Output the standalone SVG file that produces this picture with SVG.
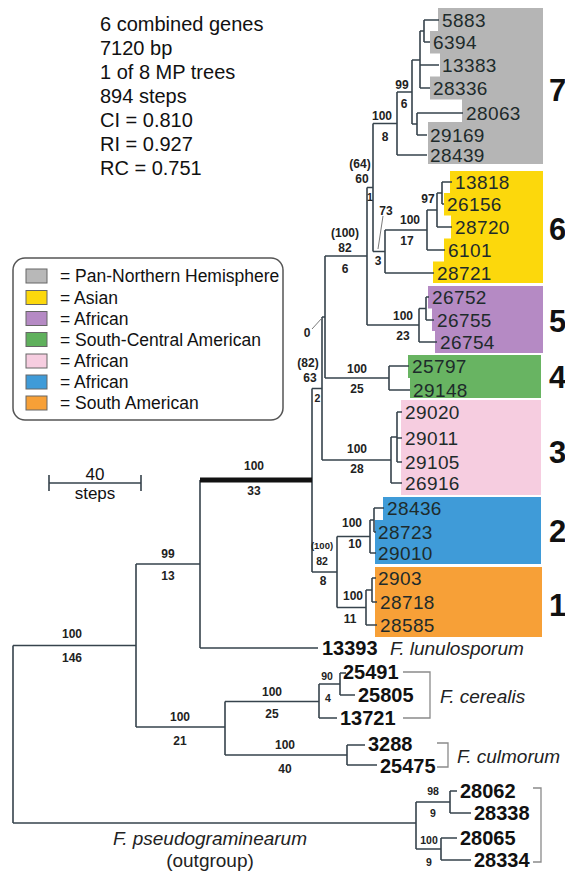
<svg xmlns="http://www.w3.org/2000/svg" width="565" height="873" viewBox="0 0 565 873">
<style>
text{font-family:"Liberation Sans",Arial,Helvetica,sans-serif}
.info{font-size:20px;fill:#111}
.lg{font-size:17.5px;fill:#111}
.bs{font-size:12px;font-weight:bold;fill:#222;text-anchor:middle}
.bsm{font-size:10.5px;font-weight:bold;fill:#222;text-anchor:middle}
.tx{font-size:19px;fill:#1e2b2b;letter-spacing:0.4px}
.tb{font-size:20px;font-weight:bold;fill:#111}
.sp{font-size:19px;font-style:italic;fill:#222}
.cn{font-size:31px;font-weight:bold;fill:#111}
.br{fill:none;stroke:#36434c;stroke-width:1.6}
.bk{fill:none;stroke:#8a8a8a;stroke-width:1.3}
.ptr{stroke:#7a7a7a;stroke-width:1}
.sw{stroke:#666;stroke-width:1}
</style>
<rect x="0" y="0" width="565" height="873" fill="#ffffff"/>

<g id="info">
<text class="info" x="100" y="30.5">6 combined genes</text>
<text class="info" x="100" y="54.5">7120 bp</text>
<text class="info" x="100" y="78.5">1 of 8 MP trees</text>
<text class="info" x="100" y="102.5">894 steps</text>
<text class="info" x="100" y="126.5">CI = 0.810</text>
<text class="info" x="100" y="150.5">RI = 0.927</text>
<text class="info" x="100" y="174.5">RC = 0.751</text>
</g>

<g id="legend">
<rect x="13" y="258" width="270" height="162" rx="12" fill="#fff" stroke="#555" stroke-width="1.5"/>
<rect class="sw" x="26" y="269" width="21" height="14" fill="#b8b8b8"/>
<rect class="sw" x="26" y="290.5" width="21" height="14" fill="#fcd80c"/>
<rect class="sw" x="26" y="311.5" width="21" height="14" fill="#b58ac4"/>
<rect class="sw" x="26" y="332.5" width="21" height="14" fill="#5fb05c"/>
<rect class="sw" x="26" y="354" width="21" height="14" fill="#f6cde0"/>
<rect class="sw" x="26" y="375" width="21" height="14" fill="#3f9bd8"/>
<rect class="sw" x="26" y="396" width="21" height="14" fill="#f7a037"/>
<text class="lg" x="60" y="282">= Pan-Northern Hemisphere</text>
<text class="lg" x="60" y="303.5">= Asian</text>
<text class="lg" x="60" y="324.5">= African</text>
<text class="lg" x="60" y="345.5">= South-Central American</text>
<text class="lg" x="60" y="367">= African</text>
<text class="lg" x="60" y="388">= African</text>
<text class="lg" x="60" y="409">= South American</text>
</g>

<g id="scalebar">
<path d="M49,483 H141 M49,475 V491 M141,475 V491" fill="none" stroke="#36434c" stroke-width="1.6"/>
<text x="95" y="480" font-size="17" fill="#111" text-anchor="middle">40</text>
<text x="95" y="499" font-size="17" fill="#111" text-anchor="middle">steps</text>
</g>

<g id="clade-boxes">
<path id="box7" d="M438,8 H543 V164 H428 V122 H462 V99.5 H430 V76.5 H440 V53.5 H430 V31 H438 Z" fill="#b5b5b5"/>
<path id="box6" d="M450,171 H543 V283 H433 V261.5 H444 V238.5 H451 V215.5 H444 V193 H450 Z" fill="#fcd80c"/>
<path id="box5" d="M428,286 H543 V353 H435 V331 H432 V308.5 H428 Z" fill="#b58ac4"/>
<path id="box4" d="M408,355 H541 V398 H410 V378 H408 Z" fill="#68b462"/>
<rect id="box3" x="401" y="400" width="140" height="95" fill="#f6cde0"/>
<path id="box2" d="M383,497 H541 V564 H375 V520 H383 Z" fill="#3f9bd8"/>
<rect id="box1" x="375" y="567" width="167" height="70" fill="#f7a037"/>
</g>

<g id="connectors">
<path class="br" d="
M13,645.5 V823 M13,645.5 H136 M13,823 H416
M136,564 V727 M136,564 H200 M136,727 H225
M200,480 V648 M200,648 H318
M225,701.5 V755 M225,701.5 H319 M225,755 H347
M319,684 V718 M319,684 H340 M319,718 H337 M340,673 V695 M340,673 H346 M340,695 H355
M347,745 V765 M347,745 H365 M347,765 H377
M416,802 V849 M416,802 H450 M416,849 H441 M450,791 V813 M450,791 H457 M450,813 H471 M441,838 V860 M441,838 H457 M441,860 H471
M312,388.5 V572 M312,388.5 H322 M312,572 H337
M322,317 V460 M322,317 H325 M322,460 H391
M325,256 V378 M325,256 H367 M325,378 H389
M367,187.5 V325 M367,187.5 H373 M367,325 H419
M373,123.5 V251.5 M373,123.5 H397 M373,251.5 H385
M385,230 V273 M385,230 H427 M385,273 H434
M427,210 V250 M427,210 H437 M427,250 H445
M437,193 V227 M437,193 H442 M437,227 H452
M442,182 V204 M442,182 H452 M442,204 H444
M397,92 V155 M397,92 H412 M397,155 H427
M412,60 V124 M412,60 H420 M412,124 H417
M420,31 V88 M420,31 H424 M420,65 H439 M420,88 H430
M424,20 V42 M424,20 H439 M424,42 H430
M417,113 V135 M417,113 H463 M417,135 H427
M419,308.5 V342 M419,308.5 H426 M419,342 H437 M426,297 V320 M426,297 H429 M426,320 H434
M389,366 V390 M389,366 H409 M389,390 H410
M391,437 V483 M391,437 H397 M391,483 H402 M397,412 V462 M397,412 H402 M397,438 H402 M397,462 H402
M337,536.5 V607.5 M337,536.5 H370 M337,607.5 H366
M370,520 V553 M370,520 H374 M370,553 H376
M374,508 V532 M374,508 H384 M374,532 H376
M366,590 V625 M366,590 H372 M366,625 H377
M372,578 V602 M372,578 H376 M372,602 H377
"/>
<path d="M200,480 H312" stroke="#111" stroke-width="5" fill="none"/>
<line class="ptr" x1="312" y1="329" x2="322" y2="318"/>
<line class="ptr" x1="383" y1="216" x2="378" y2="249"/>
<path class="bk" d="M403,672 H430 V718 H403"/>
<path class="bk" d="M437,743 H448 V767 H437"/>
<path class="bk" d="M533,788 H541 V862 H533"/>
</g>

<g id="support-labels">
<text class="bs" x="72" y="637.5">100</text>
<text class="bs" x="72" y="661.5">146</text>
<text class="bs" x="168" y="557.5">99</text>
<text class="bs" x="168" y="579.5">13</text>
<text class="bs" x="254" y="469.5">100</text>
<text class="bs" x="254" y="494.5">33</text>
<text class="bs" x="180" y="720.5">100</text>
<text class="bs" x="180" y="744.5">21</text>
<text class="bs" x="272" y="695.5">100</text>
<text class="bs" x="272" y="717.5">25</text>
<text class="bs" x="285" y="748.5">100</text>
<text class="bs" x="285" y="772.5">40</text>
<text class="bsm" x="327" y="679.5">90</text>
<text class="bsm" x="328" y="701.5">4</text>
<text class="bsm" x="433" y="795">98</text>
<text class="bsm" x="433" y="817">9</text>
<text class="bsm" x="429" y="844">100</text>
<text class="bsm" x="429" y="866">9</text>
<text class="bs" x="308" y="366.5">(82)</text>
<text class="bs" x="310" y="381.5">63</text>
<text class="bsm" x="317.5" y="402">2</text>
<text class="bs" x="307" y="336.5">0</text>
<text class="bs" x="345" y="236.5">(100)</text>
<text class="bs" x="345" y="251.5">82</text>
<text class="bs" x="345" y="272.5">6</text>
<text class="bs" x="357" y="372.5">100</text>
<text class="bs" x="357" y="392.5">25</text>
<text class="bs" x="357" y="452.5">100</text>
<text class="bs" x="357" y="472.5">28</text>
<text class="bs" x="360" y="167.5">(64)</text>
<text class="bs" x="362" y="182.5">60</text>
<text class="bsm" x="370" y="201">1</text>
<text class="bs" x="403" y="319.5">100</text>
<text class="bs" x="403" y="339.5">23</text>
<text class="bs" x="382" y="119.5">100</text>
<text class="bs" x="385" y="140.5">8</text>
<text class="bs" x="402" y="88.5">99</text>
<text class="bs" x="404" y="107.5">6</text>
<text class="bs" x="386" y="214.5">73</text>
<text class="bs" x="378" y="264.5">3</text>
<text class="bs" x="410" y="223.5">100</text>
<text class="bs" x="407" y="244.5">17</text>
<text class="bs" x="428" y="202.5">97</text>
<text x="322" y="549" font-size="9.5" font-weight="bold" fill="#222" text-anchor="middle">(100)</text>
<text class="bsm" x="322" y="564.5">82</text>
<text class="bs" x="323" y="584.5">8</text>
<text class="bs" x="352" y="526.5">100</text>
<text class="bs" x="355" y="547.5">10</text>
<text class="bs" x="353" y="599.5">100</text>
<text class="bs" x="350" y="622.5">11</text>
</g>

<g id="clade7">
<text class="tx" x="442" y="27">5883</text>
<text class="tx" x="433" y="49">6394</text>
<text class="tx" x="442" y="72">13383</text>
<text class="tx" x="433" y="95">28336</text>
<text class="tx" x="466" y="120">28063</text>
<text class="tx" x="430" y="142">29169</text>
<text class="tx" x="430" y="162">28439</text>
<text class="cn" x="549" y="101">7</text>
</g>
<g id="clade6">
<text class="tx" x="455" y="189">13818</text>
<text class="tx" x="447" y="211">26156</text>
<text class="tx" x="455" y="234">28720</text>
<text class="tx" x="448" y="257">6101</text>
<text class="tx" x="437" y="280">28721</text>
<text class="cn" x="549" y="240">6</text>
</g>
<g id="clade5">
<text class="tx" x="432" y="304">26752</text>
<text class="tx" x="437" y="327">26755</text>
<text class="tx" x="440" y="349">26754</text>
<text class="cn" x="549" y="332">5</text>
</g>
<g id="clade4">
<text class="tx" x="412" y="373">25797</text>
<text class="tx" x="413" y="397">29148</text>
<text class="cn" x="549" y="388">4</text>
</g>
<g id="clade3">
<text class="tx" x="405" y="419">29020</text>
<text class="tx" x="405" y="445">29011</text>
<text class="tx" x="405" y="469">29105</text>
<text class="tx" x="405" y="490">26916</text>
<text class="cn" x="549" y="463">3</text>
</g>
<g id="clade2">
<text class="tx" x="387" y="515">28436</text>
<text class="tx" x="378" y="539">28723</text>
<text class="tx" x="378" y="560">29010</text>
<text class="cn" x="549" y="542">2</text>
</g>
<g id="clade1">
<text class="tx" x="378" y="585">2903</text>
<text class="tx" x="380" y="609">28718</text>
<text class="tx" x="380" y="632">28585</text>
<text class="cn" x="549" y="616">1</text>
</g>

<g id="lunulosporum">
<text class="tb" x="322" y="655">13393</text>
<text class="sp" x="390" y="655">F. lunulosporum</text>
</g>
<g id="cerealis">
<text class="tb" x="343" y="679">25491</text>
<text class="tb" x="358" y="702">25805</text>
<text class="tb" x="340" y="725">13721</text>
<text class="sp" x="440" y="703">F. cerealis</text>
</g>
<g id="culmorum">
<text class="tb" x="368" y="751">3288</text>
<text class="tb" x="380" y="773">25475</text>
<text class="sp" x="457" y="763">F. culmorum</text>
</g>
<g id="pseudograminearum">
<text class="tb" x="460" y="798">28062</text>
<text class="tb" x="474" y="820">28338</text>
<text class="tb" x="460" y="845">28065</text>
<text class="tb" x="474" y="867">28334</text>
<text class="sp" x="210" y="845" text-anchor="middle">F. pseudograminearum</text>
<text x="210" y="867" font-size="19" fill="#222" text-anchor="middle">(outgroup)</text>
</g>
</svg>
